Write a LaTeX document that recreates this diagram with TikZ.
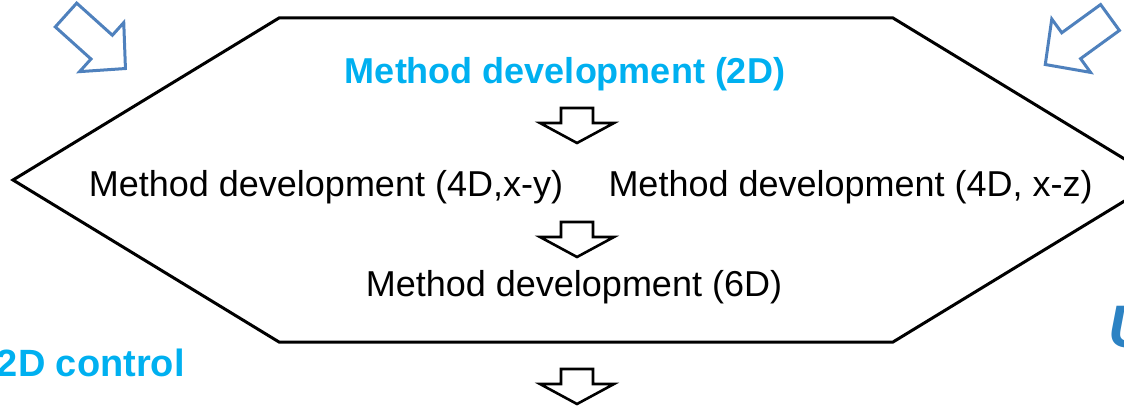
\documentclass[tikz,border=0pt]{standalone}
\usepackage{fontspec}
\setmainfont{Liberation Sans}
\usetikzlibrary{positioning}

\definecolor{titlecyan}{HTML}{00B0F0}
\definecolor{arrowblue}{HTML}{4F81BD}
\definecolor{ublue}{RGB}{44,130,195}

\tikzset{
	txt/.style={inner sep=0pt, anchor=base, font=\fontsize{36}{40}\selectfont},
	hl/.style={txt, font=\fontsize{36}{40}\selectfont\bfseries, text=titlecyan},
	bluearrow/.style={draw=arrowblue, line width=3pt, fill=white},
	downarrow/.style={draw=black, line width=2.6pt, fill=white},
	% hollow block arrow pointing along +x, tail at the origin
	tiltarrow/.pic={
		\draw[bluearrow] (0,-16) -- (48,-16) -- (48,-33) -- (80,0) -- (48,33) -- (48,16) -- (0,16) -- cycle;
	},
	% small hollow arrow pointing down, top of the shaft at the origin
	stepdown/.pic={
		\draw[downarrow] (-16,0) -- (16,0) -- (16,15) -- (37,15) -- (0,35) -- (-37,15) -- (-16,15) -- cycle;
	}
}

\begin{document}
\begin{tikzpicture}[x=1pt, y=-1pt]
	\useasboundingbox (0,0) rectangle (1124,409);

	% hexagonal frame
	\draw[line width=3pt] (279,18) -- (893,18) -- (1159,180) -- (893,342) -- (279,342) -- (13,180) -- cycle;

	% incoming arrows
	\pic[rotate=-42] at (66,15) {tiltarrow};
	\pic[rotate=216] at (1110,17.5) {tiltarrow};

	\node[hl] (twod) at (565,84) {Method development (2D)};
	\pic at (577,108) {stepdown};

	\node[txt] (xy) at (326,196) {Method development (4D,x-y)};
	\node[txt, right=45pt of xy] (xz) {Method development (4D, x-z)};
	\pic at (577,222) {stepdown};

	\node[txt] (sixd) at (574,296) {Method development (6D)};
	\pic at (577,369) {stepdown};

	% side labels
	\node[hl, anchor=base east, font=\fontsize{38}{42}\selectfont\bfseries] (ctrl) at (185,376) {2D control};
	\node[txt, anchor=base west, font=\fontsize{60}{64}\selectfont\bfseries\itshape, text=ublue] (ulabel) at (1108,347) {U};
\end{tikzpicture}
\end{document}
